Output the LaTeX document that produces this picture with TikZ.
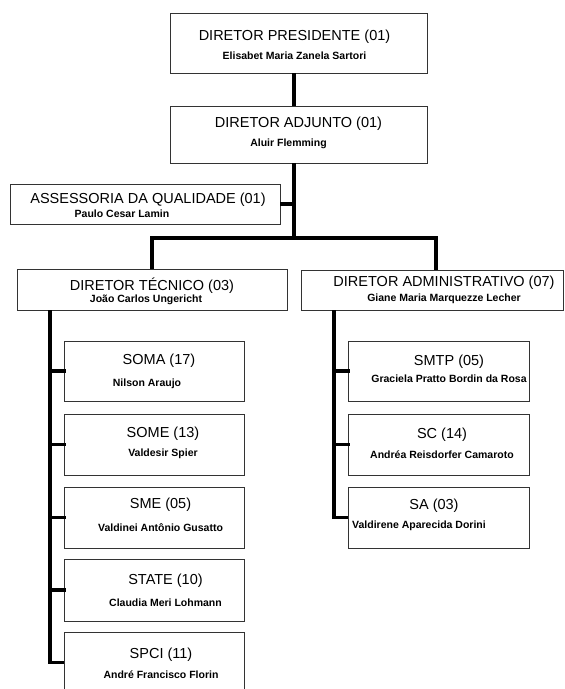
\documentclass[tikz,border=0pt]{standalone}
\usepackage{fontspec}
\setmainfont{Liberation Sans}
\usetikzlibrary{positioning,calc}
\newcommand{\nome}{\fontsize{10.5}{12}\bfseries}

\begin{document}
\begin{tikzpicture}[
            x=1pt, y=-1pt,
            cargo/.style={rectangle, draw=black!80, line width=0.9pt, inner sep=0pt},
            texto/.style={align=center, inner sep=0pt, font=\fontsize{14.5}{18.6}\selectfont},
            link/.style={line width=3.6pt, line join=miter}
        ]
            \useasboundingbox (0,0) rectangle (565,689);

            % directors
            \node[cargo, minimum width=257, minimum height=60] (pres) at (298.5,43) {};
            \node[cargo, minimum width=257, minimum height=57] (adj) at (298.5,134.5) {};
            \node[cargo, minimum width=270, minimum height=40] (ass) at (145,204) {};
            \node[cargo, minimum width=270, minimum height=41] (dt) at (152,289.5) {};
            \node[cargo, minimum width=262, minimum height=40] (da) at (432,290) {};

            % sectors
            \node[cargo, minimum width=180, minimum height=60] (soma) at (154,371) {};
            \node[cargo, minimum width=180, minimum height=61] (some) at (154,444.5) {};
            \node[cargo, minimum width=180, minimum height=61] (sme) at (154,517.5) {};
            \node[cargo, minimum width=180, minimum height=62] (state) at (154,590) {};
            \node[cargo, minimum width=180, minimum height=61] (spci) at (154,662.5) {};
            \node[cargo, minimum width=181, minimum height=60] (smtp) at (438.5,371) {};
            \node[cargo, minimum width=181, minimum height=61] (sc) at (438.5,444.5) {};
            \node[cargo, minimum width=181, minimum height=61] (sa) at (438.5,517.5) {};

            \node[texto] (pres-t) at ($(pres)+(-4,2)$) {DIRETOR PRESIDENTE (01)\\{\nome Elisabet Maria Zanela Sartori}};
            \node[texto] (adj-t) at ($(adj)+(0,-1.5)$) {DIRETOR ADJUNTO (01)\\{\nome\hspace*{-20pt}Aluir Flemming}};
            \node[texto] (ass-t) at ($(ass)+(3,1.5)$) {ASSESSORIA DA QUALIDADE (01)\\[-5pt]{\nome\hspace*{-52pt}Paulo Cesar Lamin}};
            \node[texto] (dt-t) at ($(dt)+(0,2)$) {DIRETOR TÉCNICO (03)\\[-7pt]{\nome\hspace*{-12pt}João Carlos Ungericht}};
            \node[texto] (da-t) at ($(da)+(12,0)$) {DIRETOR ADMINISTRATIVO (07)\\[-4pt]{\nome Giane Maria Marquezze Lecher}};

            \node[texto] (soma-t) at ($(soma)+(5,0.5)$) {SOMA (17)\\[3pt]{\nome\hspace*{-24pt}Nilson Araujo}};
            \node[texto] (some-t) at ($(some)+(9,-1.5)$) {SOME (13)\\{\nome Valdesir Spier}};
            \node[texto] (sme-t) at ($(sme)+(6.5,-2.5)$) {SME (05)\\[4pt]{\nome Valdinei Antônio Gusatto}};
            \node[texto] (state-t) at ($(state)+(11.5,0.5)$) {STATE (10)\\[3pt]{\nome Claudia Meri Lohmann}};
            \node[texto] (spci-t) at ($(spci)+(7,0.5)$) {SPCI (11)\\[1pt]{\nome André Francisco Florin}};
            \node[texto] (smtp-t) at ($(smtp)+(10.5,-2)$) {SMTP (05)\\[-2pt]{\nome Graciela Pratto Bordin da Rosa}};
            \node[texto] (sc-t) at ($(sc)+(3.5,-1)$) {SC (14)\\[1pt]{\nome Andréa Reisdorfer Camaroto}};
            \node[texto] (sa-t) at ($(sa)+(-4.5,-2.5)$) {SA (03)\\{\nome\hspace*{-30pt}Valdirene Aparecida Dorini}};

            % connectors
            \coordinate (fork) at (294,238);
            \coordinate (forkE) at (436,238);
            \coordinate (trunkW) at (50,0);
            \coordinate (trunkE) at (334,0);

            \draw[link] (pres.south -| fork) -- (adj.north -| fork);
            \draw[link] (adj.south -| fork) -- (fork);
            \draw[link] (ass.east) -- (ass.east -| fork);
            \draw[link] (dt.north) |- (forkE) -- (da.north -| forkE);

            \draw[link] (dt.south -| trunkW) |- (spci.west);
            \foreach \u in {soma,some,sme,state}
                \draw[link] (\u.west -| trunkW) -- ([xshift=2]\u.west);
            \draw[link] (da.south -| trunkE) |- (sa.west);
            \foreach \u in {smtp,sc}
                \draw[link] (\u.west -| trunkE) -- ([xshift=2]\u.west);
        \end{tikzpicture}
\end{document}
